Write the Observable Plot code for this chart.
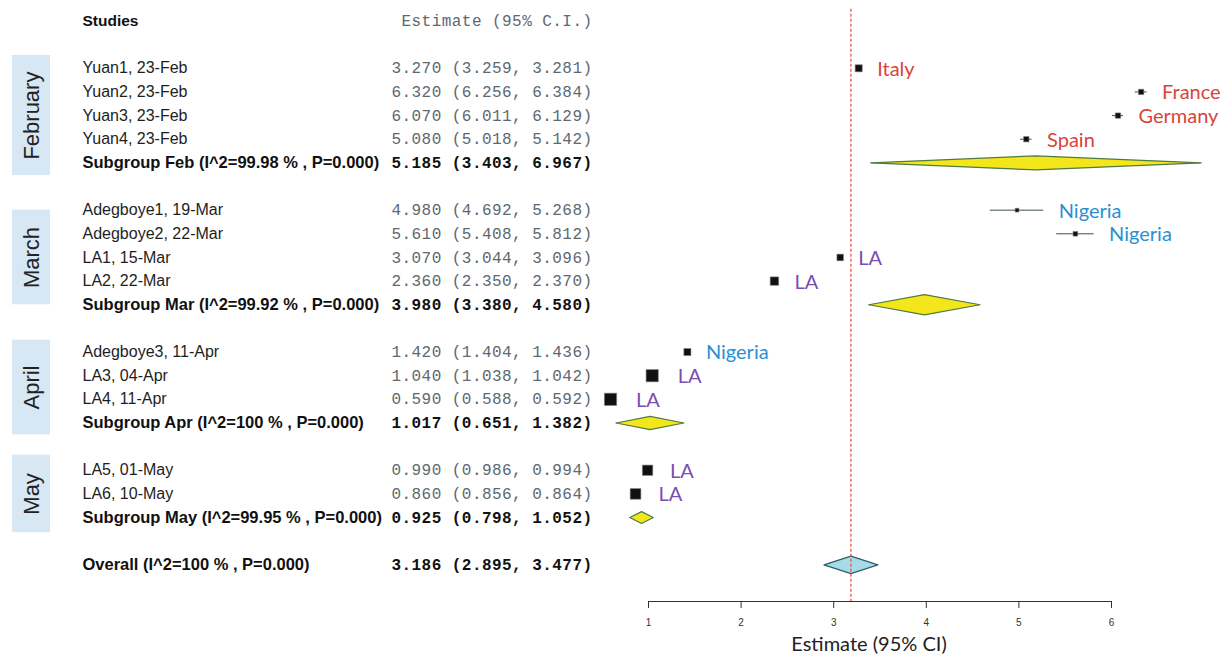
<!DOCTYPE html>
<html><head><meta charset="utf-8">
<script src="https://cdn.jsdelivr.net/npm/d3@7"></script>
<script src="https://cdn.jsdelivr.net/npm/@observablehq/plot@0.6"></script>
<style>
body{margin:0;background:#fff;}
svg{overflow:visible}
g[font-family*="Mono"]{letter-spacing:0.45px}
</style>
</head><body><div id="chart"></div>
<script>
// ---------- data ----------
const groups = ["February", "March", "April", "May"];
const studyNames = ["Yuan1, 23-Feb", "Yuan2, 23-Feb", "Yuan3, 23-Feb", "Yuan4, 23-Feb",
  "Adegboye1, 19-Mar", "Adegboye2, 22-Mar", "LA1, 15-Mar", "LA2, 22-Mar",
  "Adegboye3, 11-Apr", "LA3, 04-Apr", "LA4, 11-Apr",
  "LA5, 01-May", "LA6, 10-May"];
const studyGroups = ["February", "February", "February", "February",
  "March", "March", "March", "March",
  "April", "April", "April",
  "May", "May"];
const estimates = [3.270, 6.320, 6.070, 5.080, 4.980, 5.610, 3.070, 2.360, 1.420, 1.040, 0.590, 0.990, 0.860];
const lowers    = [3.259, 6.256, 6.011, 5.018, 4.692, 5.408, 3.044, 2.350, 1.404, 1.038, 0.588, 0.986, 0.856];
const uppers    = [3.281, 6.384, 6.129, 5.142, 5.268, 5.812, 3.096, 2.370, 1.436, 1.042, 0.592, 0.994, 0.864];
const weights   = [7, 4, 4, 4, 2, 3, 6, 10, 7, 21, 21, 15, 16];
const countries = ["Italy", "France", "Germany", "Spain", "Nigeria", "Nigeria", "LA", "LA",
  "Nigeria", "LA", "LA", "LA", "LA"];
const subgroupLabels = ["Subgroup Feb (I^2=99.98 % , P=0.000)", "Subgroup Mar (I^2=99.92 % , P=0.000)",
  "Subgroup Apr (I^2=100 % , P=0.000)", "Subgroup May (I^2=99.95 % , P=0.000)"];
const subEst   = [5.185, 3.980, 1.017, 0.925];
const subLower = [3.403, 3.380, 0.651, 0.798];
const subUpper = [6.967, 4.580, 1.382, 1.052];
const overallLabel = "Overall (I^2=100 % , P=0.000)";
const overallEst = 3.186, overallLower = 2.895, overallUpper = 3.477;
const xTicks = [1, 2, 3, 4, 5, 6];
const headerStudies = "Studies";
const headerEstimate = "Estimate (95% C.I.)";
const axisTitle = "Estimate (95% CI)";

// ---------- layout (styles) ----------
const countryColor = {Italy: "#d8443a", France: "#d8443a", Germany: "#d8443a", Spain: "#d8443a",
  Nigeria: "#2b8fd3", LA: "#7b4db4"};
const diamondHalf = [0.3, 0.43, 0.28, 0.25];
const overallHalf = 0.37;
const W = 1223, H = 661;
const topY = 20.5, axisY = 601;
const xRange = [648, 1111];
const pxPerUnit = (xRange[1] - xRange[0]) / (xTicks[xTicks.length - 1] - xTicks[0]);
const fmt = v => v.toFixed(3);
const ciText = (e, l, u) => `${fmt(e)} (${fmt(l)}, ${fmt(u)})`;

// ---------- build rows ----------
const studies = [], subs = [], boxes = [];
let r = 0;
groups.forEach((g, gi) => {
  r += 1; // blank row
  const first = r + 1;
  studyNames.forEach((name, i) => {
    if (studyGroups[i] !== g) return;
    r += 1;
    studies.push({name, row: r, est: estimates[i], lo: lowers[i], hi: uppers[i], w: weights[i],
      country: countries[i],
      labelX: Math.max(uppers[i], estimates[i] + weights[i] / 2 / pxPerUnit),
      text: ciText(estimates[i], lowers[i], uppers[i])});
  });
  r += 1;
  subs.push({name: subgroupLabels[gi], row: r, est: subEst[gi], lo: subLower[gi], hi: subUpper[gi],
    h: diamondHalf[gi], text: ciText(subEst[gi], subLower[gi], subUpper[gi])});
  const c = (first + r) / 2, half = 1.1 + 0.18 * g.length;
  boxes.push({label: g, c, y1: c - half, y2: c + half});
});
r += 2;
const overall = {name: overallLabel, row: r, est: overallEst, lo: overallLower, hi: overallUpper,
  h: overallHalf, text: ciText(overallEst, overallLower, overallUpper)};
const axisRow = r + 1.55;

const diamond = d => [
  {x: d.lo, y: d.row, k: d.name}, {x: d.est, y: d.row - d.h, k: d.name},
  {x: d.hi, y: d.row, k: d.name}, {x: d.est, y: d.row + d.h, k: d.name}];
const subPts = subs.flatMap(diamond);
const overallPts = diamond(overall);
const boldRows = [...subs, overall];

function groupBands(index, scales) {
  const g = d3.create("svg:g");
  g.selectAll("rect").data(boxes).join("rect")
    .attr("x", 12).attr("width", 38)
    .attr("y", d => scales.y(d.y1))
    .attr("height", d => scales.y(d.y2) - scales.y(d.y1))
    .attr("fill", "#d7e7f4");
  return g.node();
}

const sans = "Liberation Sans, Arial, sans-serif";
const mono = "Liberation Mono, Courier New, monospace";
const colL = 82, colR = 592;

const chart = Plot.plot({
  width: W, height: H,
  marginLeft: colL, marginRight: W - colR, marginTop: topY, marginBottom: H - axisY,
  style: {fontFamily: sans, background: "#fff", overflow: "visible"},
  x: {domain: [xTicks[0], xTicks[xTicks.length - 1]], range: xRange},
  y: {domain: [0, axisRow], range: [topY, axisY], axis: null},
  marks: [
    groupBands,
    Plot.text(boxes, {y: "c", text: "label", frameAnchor: "left", dx: 31 - colL, rotate: -90,
      textAnchor: "middle", fontSize: 22, fill: "#222", fontFamily: sans}),
    // headers
    Plot.text([headerStudies], {y: 0, frameAnchor: "left", textAnchor: "start",
      fontWeight: "bold", fontSize: 15.5, fill: "#111"}),
    Plot.text([headerEstimate], {y: 0, frameAnchor: "right", textAnchor: "end",
      fontFamily: mono, fontSize: 16, fill: "#5e6870"}),
    // study names
    Plot.text(studies, {y: "row", text: "name", frameAnchor: "left", textAnchor: "start",
      fontSize: 16, fill: "#1e1e1e"}),
    Plot.text(boldRows, {y: "row", text: "name", frameAnchor: "left", textAnchor: "start",
      fontSize: 16.5, fontWeight: "bold", fill: "#111"}),
    // estimate column
    Plot.text(studies, {y: "row", text: "text", frameAnchor: "right", textAnchor: "end",
      fontFamily: mono, fontSize: 16, fill: "#5e6870"}),
    Plot.text(boldRows, {y: "row", text: "text", frameAnchor: "right", textAnchor: "end",
      fontFamily: mono, fontSize: 16, fontWeight: "bold", fill: "#111"}),
    // CIs
    Plot.ruleY(studies, {y: "row", x1: "lo", x2: "hi", stroke: "#3f5248", strokeWidth: 1}),
    Plot.ruleY(subs, {y: "row", x1: "lo", x2: "hi", stroke: "#6d8a8c", strokeWidth: 1}),
    // squares
    Plot.dot(studies, {x: "est", y: "row", symbol: "square", r: d => d.w / Math.sqrt(Math.PI),
      fill: "#111", stroke: "#777", strokeWidth: 0.6}),
    // diamonds
    Plot.line(subPts, {x: "x", y: "y", z: "k", curve: "linear-closed", fill: "#f3e61a",
      stroke: "#4f7a44", strokeWidth: 1.2}),
    Plot.line(overallPts, {x: "x", y: "y", z: "k", curve: "linear-closed", fill: "#a8dbe9",
      stroke: "#2f5e63", strokeWidth: 1.2}),
    // reference line
    Plot.ruleX([overallEst], {y1: -0.5, y2: axisRow, stroke: "#e8453c", strokeWidth: 1.2,
      strokeDasharray: "3,2"}),
    // country labels
    Plot.text(studies, {x: "labelX", y: "row", text: "country", dx: 15, dy: 1, textAnchor: "start",
      fill: d => countryColor[d.country], fontFamily: "Lato, sans-serif", fontSize: 20}),
    // axis
    Plot.ruleY([axisRow], {x1: xTicks[0], x2: xTicks[xTicks.length - 1], stroke: "#333", strokeWidth: 1}),
    Plot.axisX(xTicks, {anchor: "bottom", tickSize: 7, tickPadding: 10, fontSize: 10,
      stroke: "#333", fill: "#333", label: null, tickFormat: d3.format("d")}),
    Plot.text([axisTitle], {x: d3.mean(xTicks), frameAnchor: "bottom", dy: 49, dx: -11,
      fontFamily: "Lato, sans-serif", fontSize: 20, fill: "#222"})
  ]
});
document.getElementById("chart").appendChild(chart);
</script>
</body></html>
